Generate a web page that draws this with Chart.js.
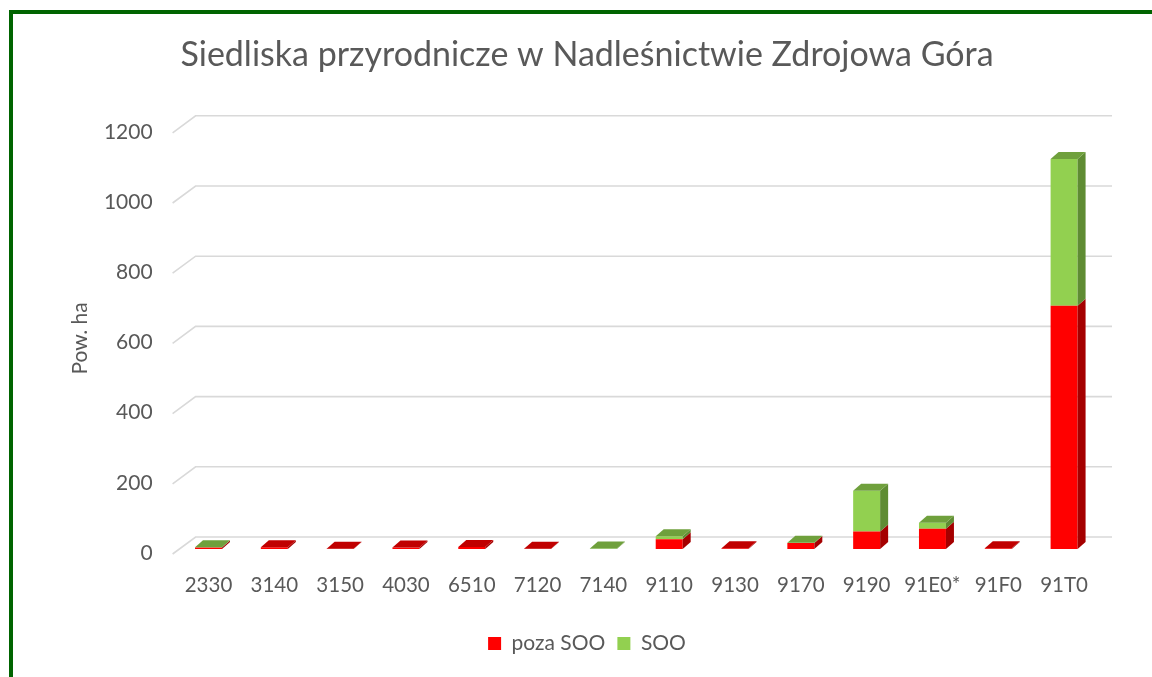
<!DOCTYPE html>
<html>
<head>
<meta charset="utf-8">
<title>Siedliska przyrodnicze</title>
<script src="https://cdn.jsdelivr.net/npm/chart.js@4/dist/chart.umd.min.js"></script>
<style>
    html, body { margin: 0; padding: 0; background: #fff; overflow: hidden; }
    #wrap { position: relative; width: 1152px; height: 677px; }
    #chart { position: absolute; left: 0; top: 0; }
    #frame {
        position: absolute; left: 9px; top: 10px; width: 1200px; height: 800px;
        border: 4px solid #006400; box-sizing: border-box; pointer-events: none;
    }
</style>
</head>
<body>
<div id="wrap">
    <canvas id="chart" width="1152" height="677"></canvas>
    <div id="frame"></div>
</div>
<script>
const habitats = ['2330', '3140', '3150', '4030', '6510', '7120', '7140', '9110', '9130', '9170', '9190', '91E0*', '91F0', '91T0'];
const pozaSoo = [4, 5, 1, 4, 6, 1, 0.3, 28, 2, 17, 50, 58, 2, 693];
const soo = [1, 0, 0, 0, 0, 0, 1, 8, 0, 1, 116, 17, 0, 418];
const yTicks = [0, 200, 400, 600, 800, 1000, 1200];

const TEXT = '#595959';
const FONT = 'Lato, "Open Sans", sans-serif';

// front / side / top shades for the fake 3D blocks
const faces = [
    { front: '#FF0000', side: '#A50000', top: '#C00000' },
    { front: '#92D050', side: '#5F8C33', top: '#6FA03C' }
];
const DX = 8, DY = 7;

const box3d = {
    id: 'box3d',
    beforeDatasetsDraw(chart) {
        const { ctx, chartArea, scales: { y } } = chart;
        const x0 = chartArea.left - 3;
        const xBack = x0 + 23;
        const xEnd = chartArea.right + 15;
        ctx.save();
        ctx.strokeStyle = '#D9D9D9';
        ctx.lineWidth = 1.6;
        yTicks.forEach(v => {
            const py = y.getPixelForValue(v);
            ctx.beginPath();
            ctx.moveTo(x0, py + 5);
            ctx.lineTo(xBack, py - 12);
            ctx.lineTo(xEnd, py - 12);
            ctx.stroke();
        });
        ctx.restore();
    },
    afterDatasetsDraw(chart) {
        const { ctx } = chart;
        const metas = [chart.getDatasetMeta(0), chart.getDatasetMeta(1)];
        ctx.save();
        habitats.forEach((_, i) => {
            let topIdx = -1;
            metas.forEach((m, d) => {
                if (chart.data.datasets[d].data[i] > 0) topIdx = d;
            });
            metas.forEach((m, d) => {
                const val = chart.data.datasets[d].data[i];
                if (!(val > 0)) return;
                const { x, y, base, width } = m.data[i].getProps(['x', 'y', 'base', 'width'], true);
                const l = x - width / 2, r = x + width / 2;
                // right side
                ctx.fillStyle = faces[d].side;
                ctx.beginPath();
                ctx.moveTo(r, y);
                ctx.lineTo(r, base);
                ctx.lineTo(r + DX, base - DY);
                ctx.lineTo(r + DX, y - DY);
                ctx.closePath();
                ctx.fill();
                // lid on the highest segment
                if (d === topIdx) {
                    ctx.fillStyle = faces[d].top;
                    ctx.beginPath();
                    ctx.moveTo(l, y);
                    ctx.lineTo(r, y);
                    ctx.lineTo(r + DX, y - DY);
                    ctx.lineTo(l + DX, y - DY);
                    ctx.closePath();
                    ctx.fill();
                }
            });
        });
        ctx.restore();
    }
};

new Chart(document.getElementById('chart'), {
    type: 'bar',
    data: {
        labels: habitats,
        datasets: [
            { label: 'poza SOO', data: pozaSoo, backgroundColor: faces[0].front, borderWidth: 0 },
            { label: 'SOO', data: soo, backgroundColor: faces[1].front, borderWidth: 0 }
        ]
    },
    options: {
        responsive: false,
        animation: false,
        layout: { padding: { left: 22, right: 0, top: 0, bottom: 13 } },
        datasets: { bar: { categoryPercentage: 1, barPercentage: 0.41 } },
        scales: {
            x: {
                stacked: true,
                grid: { display: false, drawTicks: false },
                border: { display: false },
                ticks: { color: TEXT, font: { family: FONT, size: 20.5 }, padding: 24, maxRotation: 0 },
                afterFit(a) { a.height = 72; }
            },
            y: {
                stacked: true,
                min: 0,
                max: 1200,
                grid: { display: false, drawTicks: false },
                border: { display: false },
                ticks: {
                    stepSize: 200, color: TEXT, font: { family: FONT, size: 21 }, padding: 23, labelOffset: 4,
                    callback: v => String(v)
                },
                title: { display: true, text: 'Pow. ha', color: TEXT, font: { family: FONT, size: 21 }, padding: { top: 46, bottom: 0 } },
                afterFit(a) { a.width = 153.6; }
            },
            yRight: {
                type: 'linear',
                position: 'right',
                grid: { display: false, drawTicks: false },
                border: { display: false },
                ticks: { display: false },
                afterFit(a) { a.width = 55; }
            }
        },
        plugins: {
            title: {
                display: true,
                text: 'Siedliska przyrodnicze w Nadleśnictwie Zdrojowa Góra',
                color: TEXT,
                font: { family: FONT, size: 34, weight: 'normal' },
                padding: { top: 35, bottom: 52 }
            },
            legend: {
                position: 'bottom',
                labels: { color: TEXT, font: { family: FONT, size: 21 }, boxWidth: 13, boxHeight: 13, padding: 12 }
            },
            tooltip: { enabled: false }
        }
    },
    plugins: [box3d]
});
</script>
</body>
</html>
